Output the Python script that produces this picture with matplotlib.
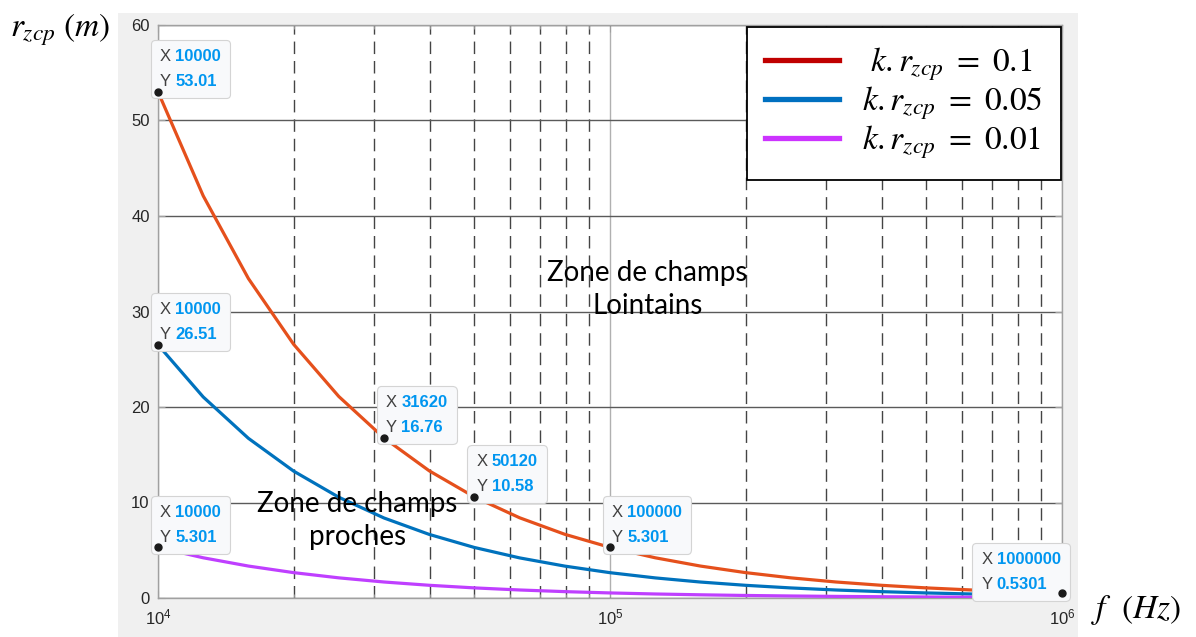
import matplotlib
matplotlib.use("Agg")
import matplotlib.pyplot as plt
from matplotlib.lines import Line2D
from matplotlib.patches import Rectangle
from matplotlib.offsetbox import TextArea, HPacker, VPacker, AnnotationBbox
from matplotlib.ticker import LogLocator, NullFormatter

plt.rcParams['mathtext.fontset'] = 'stix'
plt.rcParams['font.family'] = ['Liberation Sans', 'DejaVu Sans']

# frequencies (Hz), 10 points per decade
freq = [10000, 12590, 15850, 19950, 25120, 31620, 39810, 50120, 63100, 79430,
        100000, 125900, 158500, 199500, 251200, 316200, 398100, 501200, 631000,
        794300, 1000000]
# r_zcp (m) for k.r_zcp = 0.1, 0.05, 0.01
r_01 = [53.01, 42.11, 33.45, 26.57, 21.10, 16.76, 13.32, 10.58, 8.40, 6.67,
        5.301, 4.211, 3.345, 2.657, 2.110, 1.676, 1.332, 1.058, 0.840, 0.667, 0.5301]
r_005 = [26.51, 21.05, 16.72, 13.29, 10.55, 8.38, 6.66, 5.29, 4.20, 3.34,
         2.651, 2.105, 1.672, 1.329, 1.055, 0.838, 0.666, 0.529, 0.420, 0.334, 0.2651]
r_001 = [5.301, 4.211, 3.345, 2.657, 2.110, 1.676, 1.332, 1.058, 0.840, 0.667,
         0.5301, 0.4211, 0.3345, 0.2657, 0.2110, 0.1676, 0.1332, 0.1058, 0.0840,
         0.0667, 0.05301]

labels = [r'$\ k.r_{zcp}\ =\ 0.1$', r'$k.r_{zcp}\ =\ 0.05$', r'$k.r_{zcp}\ =\ 0.01$']

# data tips: x, y, shown x text, shown y text
tips_x = [10000, 10000, 10000, 31620, 50120, 100000, 1000000]
tips_y = [53.01, 26.51, 5.301, 16.76, 10.58, 5.301, 0.5301]
tips_xs = ['10000', '10000', '10000', '31620', '50120', '100000', '1000000']
tips_ys = ['53.01', '26.51', '5.301', '16.76', '10.58', '5.301', '0.5301']

fig = plt.figure(figsize=(11.96, 6.37), dpi=100)
fig.patches.append(Rectangle((118/1196, 0), 960/1196, 1 - 13/637,
                             transform=fig.transFigure, fc='#f0f0f0', ec='none', zorder=-10))
ax = fig.add_axes([158/1196, 39/637, 904/1196, 573/637])
ax.set_facecolor('white')

line_cols = ['#e5501c', '#0072bd', '#bf3fff']
for ys, c in zip([r_01, r_005, r_001], line_cols):
    ax.plot(freq, ys, color=c, lw=2.3, zorder=3)

ax.set_xscale('log')
ax.set_xlim(1e4, 1e6)
ax.set_ylim(0, 60)
ax.set_yticks(range(0, 61, 10))
ax.xaxis.set_minor_locator(LogLocator(base=10, subs=range(2, 10)))
ax.xaxis.set_minor_formatter(NullFormatter())

ax.yaxis.grid(True, color='#5a5a5a', lw=1.0, ls='-')
ax.xaxis.grid(True, which='major', color='#b0b0b0', lw=1.0, ls='-')
ax.xaxis.grid(True, which='minor', color='#444444', lw=1.0, ls=(0, (9, 5)))
ax.set_axisbelow(True)

for s in ax.spines.values():
    s.set_color('#a0a0a0')
    s.set_linewidth(1.0)
ax.tick_params(which='both', direction='in', color='#a0a0a0', labelcolor='#262626',
               labelsize=12, top=True, right=True)
ax.tick_params(which='major', length=5)
ax.tick_params(which='minor', length=3)
ax.tick_params(axis='x', pad=7)
ax.tick_params(axis='y', pad=6)

# data tips
tp = dict(fontsize=12)
for i in range(len(tips_x)):
    r1 = HPacker(children=[TextArea('X', textprops=dict(color='#404040', **tp)),
                           TextArea(tips_xs[i], textprops=dict(color='#0096f0',
                                                               fontweight='bold', **tp))],
                 pad=0, sep=3)
    r2 = HPacker(children=[TextArea('Y', textprops=dict(color='#404040', **tp)),
                           TextArea(tips_ys[i], textprops=dict(color='#0096f0',
                                                               fontweight='bold', **tp))],
                 pad=0, sep=3)
    box = VPacker(children=[r1, r2], pad=0, sep=7)
    if i == len(tips_x) - 1:
        align, off = (1, 0), (-1, 1)
    else:
        align, off = (0, 0), (1.5, 2)
    ab = AnnotationBbox(box, (tips_x[i], tips_y[i]), xybox=off, boxcoords='offset points',
                        box_alignment=align, frameon=True, pad=0.65, annotation_clip=False,
                        bboxprops=dict(boxstyle='round,pad=0.65,rounding_size=0.3',
                                       fc='#f8f9fb', ec='#d4d4d4', lw=0.8), zorder=5)
    ax.add_artist(ab)
    ax.plot(tips_x[i], tips_y[i], 'o', color='#1a1a1a', ms=5, zorder=6, clip_on=False)

# zone labels
ax.text(1.21e5, 32.3, 'Zone de champs\nLointains', ha='center', va='center',
        fontsize=20, family='Lato', linespacing=1.3, zorder=4)
ax.text(2.76e4, 8.1, 'Zone de champs\nproches', ha='center', va='center',
        fontsize=20, family='Lato', linespacing=1.3, zorder=4)

# axis labels
fig.text(10/1196, 1 - 30/637, r'$r_{zcp}\ (m)$', fontsize=24, va='center', ha='left')
fig.text(1091/1196, 1 - 610/637, r'$f\ \ (Hz)$', fontsize=24, va='center', ha='left')

# legend
leg_cols = ['#c00000', '#0070c0', '#cc33ff']
handles = [Line2D([], [], color=c, lw=3.8) for c in leg_cols]
leg = fig.legend(handles, labels, loc='upper right',
                 bbox_to_anchor=(1061/1196, 1 - 27/637), borderaxespad=0,
                 fontsize=24, handlelength=2.2, handletextpad=0.7, labelspacing=0.05,
                 borderpad=0.55, fancybox=False, framealpha=1, edgecolor='black')
leg.get_frame().set_linewidth(1.3)

fig.savefig('out.png', dpi=100, facecolor='white')
